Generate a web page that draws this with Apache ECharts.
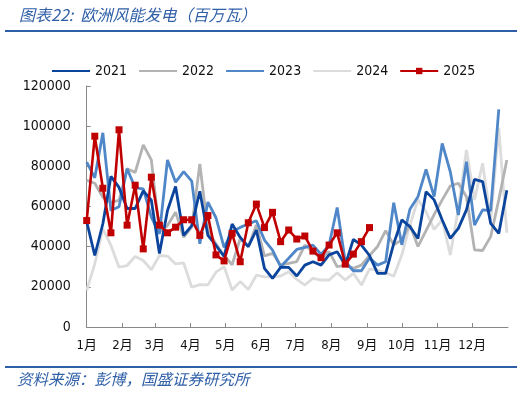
<!DOCTYPE html>
<html><head><meta charset="utf-8">
<script src="https://cdn.jsdelivr.net/npm/echarts@6/dist/echarts.min.js"></script>
<style>html,body{margin:0;padding:0;background:#fff}#c{width:532px;height:393px}</style>
</head><body><div id="c"></div>
<script>
// x category: day-of-year offset of each weekly observation
const weekDays = [0,7,14,21,28,35,42,49,56,63,70,77,84,91,98,105,112,119,126,133,140,147,154,161,168,175,182,189,196,203,210,217,224,231,238,245,252,259,266,273,280,287,294,301,308,315,322,329,336,343,350,357,364];
const monthStarts = [0,31,59,90,120,151,181,212,243,273,304,334];
const monthLabels = ['1月','2月','3月','4月','5月','6月','7月','8月','9月','10月','11月','12月'];
const seriesNames = ['2021','2022','2023','2024','2025'];

const v2021 = [52500,35600,51400,75000,69500,59000,59000,67800,63100,36600,58000,70000,45600,50500,67600,45600,40600,35100,51300,44600,40000,48300,29200,24200,29700,29700,25400,30800,32500,30800,35900,37500,30800,43600,40800,35600,26700,26700,41500,53300,50000,44100,67400,63300,53300,44100,49100,58300,73500,72400,51600,46600,68100];
const v2022 = [73000,71600,64600,62000,63000,78800,77000,90700,83200,47200,50500,57200,44700,49700,81200,48000,41400,35600,31000,44000,40000,50800,35400,36700,30800,31700,32500,40800,37500,34200,37500,30000,30800,29200,30800,35600,40100,48000,40900,43400,50800,40100,48000,56000,63300,70200,71600,64900,38400,38100,45000,63300,83200];
const v2023 = [82100,74300,96700,58000,59900,78800,69300,68800,54700,46400,83200,72100,77400,72600,41400,62200,54400,39700,47500,49600,51300,52900,43300,38300,30000,34200,38600,39600,40800,36200,40800,59500,32500,28000,28000,34300,30800,32500,61900,40900,58600,64900,78500,64900,91400,77300,55800,82300,50800,58300,58000,108400];
const v2024 = [18200,31400,48900,40600,29800,30600,35100,33100,28500,35600,35300,31400,31900,19800,21100,21000,27300,30100,18400,22600,18700,25800,25000,25000,25400,27500,23700,20900,24200,23400,23400,27000,23400,26700,20900,28800,28300,27000,25300,35800,50800,63500,57400,48600,53300,35800,59100,88100,63300,81500,53300,98900,46900];
const v2025 = [53000,95000,69100,46900,98200,50700,70600,38900,74600,50700,46900,49700,53400,53400,45600,55500,35900,32900,46600,32500,51900,61200,49500,57100,42500,48300,43800,45300,37800,34500,40800,46900,31300,36300,42500,49500];

const FONT = "'DejaVu Sans Condensed','DejaVu Sans','Noto Sans CJK SC',sans-serif";
const CJK = "'Noto Sans CJK SC','DejaVu Sans',sans-serif";
const BLUE = '#2f5fa7';

function pairs(vals){ return vals.map((v,i)=>[weekDays[i], v]); }

const styles = {
  '2021': {color:'#0b449c', width:2.8, z:4},
  '2022': {color:'#b3b3b3', width:2.8, z:2},
  '2023': {color:'#4f87c8', width:2.8, z:3},
  '2024': {color:'#dcdcdc', width:2.8, z:1},
  '2025': {color:'#c00000', width:2.6, z:5}
};
const values = {'2021':v2021,'2022':v2022,'2023':v2023,'2024':v2024,'2025':v2025};

const series = seriesNames.map(n => ({
  name: n, type: 'line', data: pairs(values[n]), z: styles[n].z,
  symbol: n === '2025' ? 'rect' : 'none', symbolSize: 7, showSymbol: n === '2025',
  lineStyle: {color: styles[n].color, width: styles[n].width},
  itemStyle: {color: styles[n].color},
  emphasis: {disabled: true}
}));

const legendData = seriesNames.map(n => n === '2025'
  ? {name: n}
  : {name: n, itemStyle: {opacity: 0, borderWidth: 0}});

const chart = echarts.init(document.getElementById('c'), null, {renderer:'canvas'});
chart.setOption({
  animation: false,
  backgroundColor: '#fff',
  title: {
    text: '图表22:  欧洲风能发电（百万瓦）', left: 14, top: 2,
    textStyle: {fontSize: 16, fontStyle: 'italic', fontWeight: 'normal', color: BLUE, fontFamily: CJK}
  },
  graphic: [
    {type:'line', shape:{x1:5,y1:31,x2:517,y2:31}, style:{stroke:BLUE, lineWidth:2}},
    {type:'line', shape:{x1:5,y1:367,x2:517,y2:367}, style:{stroke:BLUE, lineWidth:2}},
    {type:'text', left:17, top:371, style:{text:'资料来源：彭博，国盛证券研究所', fill:BLUE, font:'italic 15.5px ' + CJK}}
  ],
  legend: {
    data: legendData, left: 46, top: 59, itemWidth: 38, itemHeight: 8, itemGap: 11,
    textStyle: {fontSize: 14, color: '#111', fontFamily: FONT}
  },
  grid: {left: 86.7, right: 24, top: 86, bottom: 66, containLabel: false},
  xAxis: {
    type: 'value', min: 0, max: 365,
    axisLine: {show: true, lineStyle: {color: '#888', width: 1}},
    axisTick: {show: true, inside: true, length: 4, customValues: monthStarts, lineStyle:{color:'#888'}},
    axisLabel: {customValues: monthStarts, margin: 12, fontSize: 13, color: '#111', fontFamily: FONT,
      formatter: v => monthLabels[monthStarts.indexOf(v)] || ''},
    splitLine: {show: false}
  },
  yAxis: {
    type: 'value', min: 0, max: 120000, interval: 20000,
    axisLine: {show: true, lineStyle: {color: '#888', width: 1}},
    axisTick: {show: true, inside: true, length: 4, lineStyle:{color:'#888'}},
    axisLabel: {fontSize: 14, color: '#111', margin: 16, fontFamily: FONT, formatter: v => String(v)},
    splitLine: {show: false}
  },
  series: series
});
</script></body></html>
